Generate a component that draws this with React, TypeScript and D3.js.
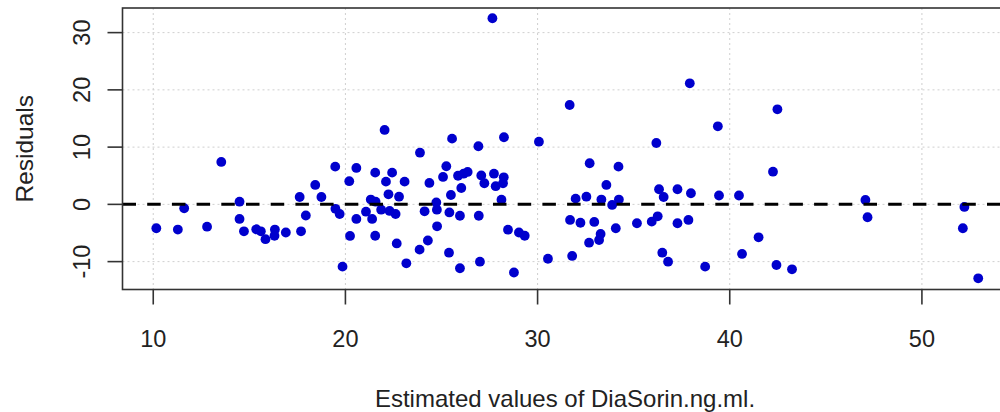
import React from "react";
import * as d3 from "d3";

// Fitted values (x) and residuals (y)
const fittedValues: number[] = [
  10.16, 11.28, 11.61, 12.8, 13.54, 14.49, 14.49, 14.72, 15.36, 15.6,
  15.84, 16.33, 16.31, 16.9, 17.62, 17.69, 17.94, 18.43, 18.75, 19.47,
  19.48, 19.7, 19.85, 20.2, 20.24, 20.57, 20.57, 21.07, 21.32, 21.39,
  21.55, 21.55, 21.57, 21.86, 22.04, 22.11, 22.24, 22.3, 22.43, 22.61,
  22.67, 22.79, 23.08, 23.17, 23.88, 23.86, 24.12, 24.29, 24.37, 24.73,
  24.76, 24.77, 25.08, 25.25, 25.39, 25.41, 25.49, 25.55, 25.86, 25.96,
  25.96, 26.03, 26.15, 26.36, 26.92, 26.94, 27.0, 27.07, 27.23, 27.65,
  27.73, 27.82, 28.12, 28.25, 28.24, 28.2, 28.46, 28.77, 29.03, 29.33,
  30.07, 30.54, 31.67, 31.69, 31.8, 31.98, 32.23, 32.54, 32.68, 32.71,
  32.95, 33.2, 33.28, 33.32, 33.58, 33.88, 34.07, 34.21, 34.23, 35.17,
  35.94, 36.18, 36.25, 36.32, 36.49, 36.56, 36.79, 37.28, 37.28, 37.85,
  37.92, 37.98, 38.72, 39.38, 39.44, 40.48, 40.64, 41.5, 42.25, 42.48,
  42.43, 43.24, 47.06, 47.17, 52.21, 52.13, 52.93,
];
const residuals: number[] = [
  -4.17, -4.4, -0.68, -3.9, 7.41, 0.47, -2.55, -4.7, -4.35, -4.7,
  -6.08, -4.4, -5.48, -4.91, 1.29, -4.7, -1.94, 3.39, 1.29, 6.59,
  -0.77, -1.68, -10.88, 4.05, -5.52, 6.36, -2.55, -1.28, 0.84, -2.55,
  5.54, -5.48, 0.47, -0.93, 13.0, 3.97, 1.76, -1.15, 5.54, -1.68,
  -6.83, 1.34, 3.97, -10.29, 9.03, -7.91, -1.21, -6.31, 3.74, 0.33,
  -0.93, -3.83, 4.79, 6.66, -8.44, -1.41, 1.64, 11.48, 5.0, -1.99,
  -11.16, 2.86, 5.36, 5.66, 10.15, -1.99, -10.01, 5.05, 3.69, 32.51,
  5.36, 3.18, 0.82, 11.72, 4.73, 3.69, -4.42, -11.9, -4.91, -5.48,
  10.95, -9.5, 17.36, -2.72, -9.01, 1.0, -3.21, 1.34, -6.69, 7.18,
  -3.07, -6.22, -5.17, 0.84, 3.39, -0.1, -4.17, 6.59, 0.84, -3.3,
  -3.02, 10.72, -2.08, 2.64, -8.44, 1.29, -10.01, 2.64, -3.3, -2.72,
  21.15, 1.94, -10.88, 13.64, 1.55, 1.55, -8.66, -5.75, 5.71, 16.61,
  -10.59, -11.34, 0.77, -2.25, -0.45, -4.17, -12.91,
];
const xTicks: number[] = [10, 20, 30, 40, 50];
const yTicks: number[] = [-10, 0, 10, 20, 30];
const xDomain: [number, number] = [8.4, 55.0];
const yDomain: [number, number] = [-14.87, 34.3];
const xTitle = "Estimated values of DiaSorin.ng.ml.";
const yTitle = "Residuals";
const refLine = 0;

const W = 1000;
const H = 412;
const left = 122.5;
const right = 1018;
const top = 8;
const bottom = 289.5;
const FONT = "'Liberation Sans', Arial, sans-serif";
const FS = 23.5;

export default function App() {
  const x = d3.scaleLinear().domain(xDomain).range([left, right]);
  const y = d3.scaleLinear().domain(yDomain).range([bottom, top]);
  const pts = fittedValues.map((v, i) => ({ fx: v, r: residuals[i] }));

  return (
    <svg
      width={W}
      height={H}
      style={{ position: "fixed", left: 0, top: 0, background: "#fff" }}
      fontFamily={FONT}
    >
      <rect x={0} y={0} width={W} height={H} fill="#fff" />
      {/* grid */}
      {xTicks.map((t) => (
        <line
          key={"gx" + t}
          x1={x(t)}
          x2={x(t)}
          y1={top}
          y2={bottom}
          stroke="#cfcfcf"
          strokeWidth={1}
          strokeDasharray="2 3"
        />
      ))}
      {yTicks.map((t) => (
        <line
          key={"gy" + t}
          x1={left}
          x2={right}
          y1={y(t)}
          y2={y(t)}
          stroke="#cfcfcf"
          strokeWidth={1}
          strokeDasharray="2 3"
        />
      ))}
      {/* points */}
      {pts.map((p, i) => (
        <circle key={i} cx={x(p.fx)} cy={y(p.r)} r={4.9} fill="#0000CD" />
      ))}
      {/* reference line */}
      <line
        x1={left}
        x2={right}
        y1={y(refLine)}
        y2={y(refLine)}
        stroke="#000"
        strokeWidth={3}
        strokeDasharray="13.5 11.2"
      />
      {/* box */}
      <rect
        x={left}
        y={top}
        width={right - left}
        height={bottom - top}
        fill="none"
        stroke="#333"
        strokeWidth={1.6}
      />
      {/* x axis */}
      {xTicks.map((t) => (
        <g key={"xt" + t}>
          <line x1={x(t)} x2={x(t)} y1={bottom} y2={bottom + 15} stroke="#333" strokeWidth={1.6} />
          <text x={x(t)} y={347} textAnchor="middle" fontSize={FS} fill="#222">
            {t}
          </text>
        </g>
      ))}
      {/* y axis */}
      {yTicks.map((t) => (
        <g key={"yt" + t}>
          <line x1={left - 15} x2={left} y1={y(t)} y2={y(t)} stroke="#333" strokeWidth={1.6} />
          <text
            transform={`translate(90,${y(t)}) rotate(-90)`}
            textAnchor="middle"
            fontSize={FS}
            fill="#222"
          >
            {t}
          </text>
        </g>
      ))}
      <text x={565} y={407} textAnchor="middle" fontSize={24} fill="#222">
        {xTitle}
      </text>
      <text
        transform={`translate(33,${(top + bottom) / 2}) rotate(-90)`}
        textAnchor="middle"
        fontSize={24.5}
        fill="#222"
      >
        {yTitle}
      </text>
    </svg>
  );
}
